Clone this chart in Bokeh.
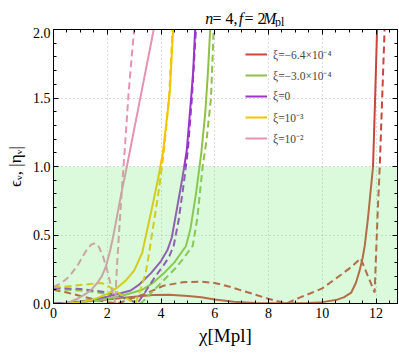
from bokeh.plotting import figure
from bokeh.embed import file_html
from bokeh.resources import INLINE
from bokeh.layouts import column
from bokeh.core.properties import value
from bokeh.models import (Range1d, SingleIntervalTicker, LinearAxis, Legend, LegendItem,
                          PrintfTickFormatter)

# ---------------- data ----------------
xi_labels = ["ξ=−6.4×10⁻⁴", "ξ=−3.0×10⁻⁴", "ξ=0", "ξ=10⁻³", "ξ=10⁻²"]
colors = ["#C8463A", "#8FC04A", "#9A35C8", "#F2C500", "#E891B5"]

# xi = -6.4e-4
red_eps_x = [0, 1, 2, 3, 3.7, 4.3, 5, 5.5, 6, 6.7, 7.5, 8.5, 9.5, 10, 10.5, 10.8, 11.08, 11.25, 11.39, 11.5, 11.58, 11.7, 11.8, 11.89, 11.96, 12.04]
red_eps_y = [0.0, 0.01, 0.03, 0.05, 0.062, 0.063, 0.055, 0.046, 0.03, 0.012, 0.004, 0.001, 0.004, 0.01, 0.025, 0.045, 0.08, 0.15, 0.24, 0.33, 0.42, 0.62, 0.82, 1.0, 1.45, 2.0]
red_eta_x = [0, 0.5, 1.0, 1.5, 2.0, 2.4, 2.8, 3.4, 4.1, 4.8, 5.5, 6.0, 6.6, 7.0, 7.5, 8.0, 8.66, 9.2, 10.0, 10.7, 11.1, 11.43, 11.7, 11.95, 12.0, 12.07, 12.14, 12.23, 12.32]
red_eta_y = [0.1, 0.08, 0.055, 0.03, 0.01, 0.0, 0.03, 0.07, 0.13, 0.155, 0.16, 0.15, 0.12, 0.095, 0.065, 0.034, 0.0, 0.046, 0.11, 0.21, 0.27, 0.33, 0.2, 0.08, 0.35, 0.7, 1.0, 1.5, 2.0]

# xi = -3.0e-4
grn_eps_x = [0, 0.5, 1, 1.5, 2, 2.5, 2.87, 3.3, 3.7, 4.1, 4.5, 4.93, 5.1, 5.3, 5.5, 5.65, 5.75, 5.83]
grn_eps_y = [0.0, 0.005, 0.012, 0.022, 0.035, 0.055, 0.075, 0.1, 0.15, 0.22, 0.3, 0.42, 0.55, 0.8, 1.1, 1.4, 1.7, 2.0]
grn_eta_x = [0, 0.5, 1, 1.5, 2, 2.5, 3.0, 3.25, 3.6, 4.1, 4.5, 4.8, 5.18, 5.35, 5.55, 5.7, 5.86, 5.96]
grn_eta_y = [0.105, 0.1, 0.095, 0.085, 0.07, 0.045, 0.015, 0.0, 0.07, 0.17, 0.25, 0.32, 0.42, 0.62, 1.0, 1.2, 1.5, 2.0]

# xi = 0
pur_eps_x = [0, 0.5, 1.0, 1.5, 2.0, 2.5, 2.87, 3.2, 3.62, 4.0, 4.24, 4.4, 4.6, 4.8, 4.96, 5.1, 5.2, 5.27]
pur_eps_y = [0.0, 0.005, 0.015, 0.03, 0.05, 0.075, 0.095, 0.14, 0.22, 0.31, 0.39, 0.48, 0.7, 0.92, 1.12, 1.45, 1.7, 2.0]
pur_eta_x = [0, 0.5, 1.0, 1.5, 2.0, 2.5, 2.8, 3.12, 3.4, 3.8, 4.1, 4.3, 4.47, 4.65, 4.85, 5.0, 5.15, 5.3]
pur_eta_y = [0.115, 0.11, 0.105, 0.095, 0.08, 0.05, 0.03, 0.0, 0.08, 0.2, 0.28, 0.34, 0.42, 0.6, 0.88, 1.12, 1.5, 2.0]

# xi = 1e-3
yel_eps_x = [0.5, 1.0, 1.5, 2.0, 2.4, 2.7, 3.0, 3.3, 3.5, 3.7, 3.9, 4.07, 4.2, 4.33, 4.45]
yel_eps_y = [0.0, 0.01, 0.03, 0.07, 0.12, 0.17, 0.24, 0.37, 0.55, 0.73, 0.92, 1.1, 1.32, 1.55, 2.0]
yel_eta_x = [0, 0.5, 1.0, 1.5, 1.8, 2.1, 2.4, 2.7, 3.05, 3.2, 3.43, 3.55, 3.7, 3.9, 4.1, 4.3, 4.43]
yel_eta_y = [0.12, 0.125, 0.135, 0.145, 0.15, 0.12, 0.08, 0.04, 0.0, 0.08, 0.22, 0.36, 0.55, 0.8, 1.1, 1.5, 2.0]

# xi = 1e-2
pnk_eps_x = [0.3, 0.6, 0.9, 1.2, 1.45, 1.65, 1.8, 1.95, 2.1, 2.2, 2.3, 2.5, 2.73, 2.9, 3.2, 3.5, 3.73]
pnk_eps_y = [0.0, 0.01, 0.035, 0.07, 0.11, 0.155, 0.2, 0.27, 0.38, 0.47, 0.57, 0.78, 1.0, 1.17, 1.47, 1.77, 2.0]
pnk_eta_x = [0, 0.3, 0.6, 0.9, 1.2, 1.4, 1.55, 1.7, 1.85, 2.0, 2.15, 2.3, 2.33, 2.37, 2.45, 2.55, 2.65, 2.8, 3.0]
pnk_eta_y = [0.12, 0.15, 0.2, 0.28, 0.38, 0.43, 0.44, 0.41, 0.34, 0.24, 0.12, 0.0, 0.15, 0.3, 0.55, 0.85, 1.12, 1.55, 2.0]

eps_x = [red_eps_x, grn_eps_x, pur_eps_x, yel_eps_x, pnk_eps_x]
eps_y = [red_eps_y, grn_eps_y, pur_eps_y, yel_eps_y, pnk_eps_y]
eta_x = [red_eta_x, grn_eta_x, pur_eta_x, yel_eta_x, pnk_eta_x]
eta_y = [red_eta_y, grn_eta_y, pur_eta_y, yel_eta_y, pnk_eta_y]

title_parts = ["n", "= 4,", "f", "= 2", "M", "pl"]
title_styles = ["italic", "normal", "italic", "normal", "italic", "normal"]

x_ticks_interval = 2
y_ticks_interval = 0.5
X_END = 12.8

SERIF = "Liberation Serif"
W = 399
TITLE_H = 27
MAIN_H = 330

# ---------------- title strip ----------------
tf = figure(width=W, height=TITLE_H, output_backend="svg", toolbar_location=None,
            title=None, x_range=Range1d(0, W), y_range=Range1d(0, TITLE_H),
            x_axis_location=None, y_axis_location=None,
            min_border=0, min_border_left=0, min_border_right=0,
            min_border_top=0, min_border_bottom=0)
tf.grid.visible = False
tf.outline_line_color = None
tf.background_fill_color = "white"
tf.border_fill_color = "white"
title_x = [176, 184.5, 215, 221.5, 243, 257]
title_y = [8.7, 8.7, 8.7, 8.7, 8.7, 5.9]
title_fs = ["16px", "16px", "16px", "16px", "16px", "12px"]
for i in range(len(title_parts)):
    tf.text(x=[title_x[i]], y=[title_y[i]], text=[title_parts[i]],
            text_font=value(SERIF), text_font_style=value(title_styles[i]),
            text_font_size=value(title_fs[i]), text_color="black",
            text_baseline="alphabetic", text_align="left")

# ---------------- main plot ----------------
p = figure(width=W, height=MAIN_H, output_backend="svg", toolbar_location=None,
           x_range=Range1d(0, X_END), y_range=Range1d(0, 2),
           min_border_left=53, min_border_right=2, min_border_top=2, min_border_bottom=54,
           x_axis_label="χ[Mpl]", y_axis_label="ϵᵥ, |ηᵥ|")
p.outline_line_color = "black"
p.background_fill_color = "white"
p.border_fill_color = "white"

xt = SingleIntervalTicker(interval=x_ticks_interval, num_minor_ticks=4)
yt = SingleIntervalTicker(interval=y_ticks_interval, num_minor_ticks=5)
p.xaxis.ticker = xt
p.yaxis.ticker = yt
p.yaxis.formatter = PrintfTickFormatter(format="%.1f")
for ax in [p.xaxis[0], p.yaxis[0]]:
    ax.major_tick_in = 5
    ax.major_tick_out = 0
    ax.minor_tick_in = 3
    ax.minor_tick_out = 0
    ax.axis_line_color = "black"
    ax.major_tick_line_color = "black"
    ax.minor_tick_line_color = "black"
    ax.major_label_text_font = SERIF
    ax.major_label_text_font_size = "14px"
    ax.major_label_text_color = "black"
    ax.axis_label_text_font = SERIF
    ax.axis_label_text_font_style = "normal"
    ax.axis_label_text_color = "black"
p.xaxis.axis_label_text_font_size = "19px"
p.yaxis.axis_label_text_font_size = "17px"
p.xaxis.major_label_standoff = 4
p.yaxis.major_label_standoff = 3
p.xaxis.axis_label_standoff = 4
p.yaxis.axis_label_standoff = 5

for loc, tk in [("right", yt), ("above", xt)]:
    ax = LinearAxis(ticker=tk, major_label_text_font_size="0px", major_label_standoff=0,
                    major_tick_in=5, major_tick_out=0, minor_tick_in=3, minor_tick_out=0,
                    axis_line_color="black", major_tick_line_color="black",
                    minor_tick_line_color="black")
    p.add_layout(ax, loc)

p.xgrid.ticker = xt
p.ygrid.ticker = yt
for g in [p.xgrid[0], p.ygrid[0]]:
    g.grid_line_color = "#b8b8b8"
    g.grid_line_dash = "1 3"
    g.grid_line_width = 1

solid_renderers = []
for i in range(5):
    r = p.line(eps_x[i], eps_y[i], line_color=colors[i], line_width=2)
    solid_renderers.append(r)
    p.line(eta_x[i], eta_y[i], line_color=colors[i], line_width=2, line_dash="7 4")

# shaded region eps < 1 (drawn on top, translucent)
p.varea(x=[0, 13], y1=[0, 0], y2=[1, 1], fill_color="#6EE66E", fill_alpha=0.25)

legend = Legend(items=[LegendItem(label=xi_labels[i], renderers=[solid_renderers[i]]) for i in range(5)],
                location=(192, 157), background_fill_alpha=0, border_line_alpha=0,
                label_text_font=SERIF, label_text_font_size="11.5px", glyph_width=22,
                glyph_height=16, label_height=16, spacing=5, padding=0, margin=0,
                label_standoff=6)
p.add_layout(legend)

layout = column(tf, p, spacing=0)
open("out.html", "w").write(file_html(layout, INLINE))
